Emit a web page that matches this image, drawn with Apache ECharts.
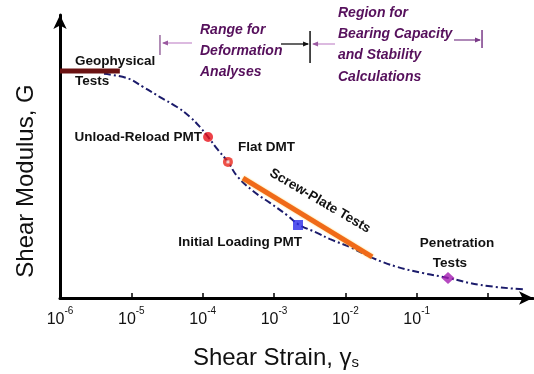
<!DOCTYPE html>
<html>
<head>
<meta charset="utf-8">
<script src="https://cdn.jsdelivr.net/npm/echarts@6/dist/echarts.min.js"></script>
<style>
  html, body { margin: 0; padding: 0; background: #fff; }
  #chart { width: 534px; height: 374px; }
</style>
</head>
<body>
<div id="chart"></div>
<script>
// Shear modulus degradation curve versus shear strain (log scale)
const strainTicks = [1e-6, 1e-5, 1e-4, 1e-3, 1e-2, 1e-1, 1];

const curveStrain = [4.14e-6, 8.69e-6, 1.46e-5, 2.52e-5, 4.37e-5, 6.65e-5, 9.18e-5, 1.19e-4,
  1.64e-4, 2.26e-4, 3.03e-4, 5.08e-4, 8.79e-4, 1.52e-3, 2.17e-3, 4.01e-3, 6.10e-3,
  1.16e-2, 2.44e-2, 5.31e-2, 0.123, 0.275, 0.773, 3.31];
const curveG = [79.2, 77.7, 74.6, 71.0, 67.5, 64.0, 60.4, 56.9,
  52.3, 48.1, 43.1, 37.8, 33.6, 29.3, 26.1, 23.0, 20.8,
  18.0, 14.1, 11.0, 8.8, 7.1, 4.6, 3.0];

const geophysStrain = [1e-6, 6.9e-6];
const geophysG = [80.2, 80.2];

const screwPlateStrain = [3.68e-4, 2.37e-2];
const screwPlateG = [42.4, 14.5];

const unloadReload = [1.19e-4, 56.9];
const flatDMT = [2.26e-4, 48.1];
const initialLoading = [2.17e-3, 25.8];
const penetration = [0.275, 7.1];

// Boundaries of the two application ranges along the strain axis
const rangeBounds = [2.52e-5, 3.2e-3, 0.824];

const zip = (xs, ys) => xs.map((x, i) => [x, ys[i]]);

const chart = echarts.init(document.getElementById('chart'));
const FONT = '"Liberation Sans", Arial, sans-serif';

chart.setOption({
  animation: false,
  grid: { left: 60, right: 1, top: 15, bottom: 76 },
  xAxis: {
    type: 'log',
    logBase: 10,
    min: 1e-6,
    max: 4.27,
    axisLine: { lineStyle: { color: '#000', width: 3 }, symbol: ['none', 'arrow'], symbolSize: [10, 14] },
    axisTick: { show: true, inside: true, length: 5, lineStyle: { color: '#000', width: 1.5 }, customValues: strainTicks },
    axisLabel: {
      margin: 8,
      customValues: strainTicks.slice(0, 6),
      formatter: v => '{b|10}{s|' + Math.round(Math.log10(v)) + '}',
      rich: {
        b: { fontFamily: FONT, fontSize: 16, color: '#111', verticalAlign: 'bottom', lineHeight: 22 },
        s: { fontFamily: FONT, fontSize: 10, color: '#111', verticalAlign: 'top', lineHeight: 22 }
      }
    },
    splitLine: { show: false }
  },
  yAxis: {
    type: 'value',
    min: 0,
    max: 100,
    axisLine: { show: true, lineStyle: { color: '#000', width: 3 }, symbol: ['none', 'arrow'], symbolSize: [10, 14] },
    axisTick: { show: false },
    axisLabel: { show: false },
    splitLine: { show: false }
  },
  series: [
    {
      type: 'line', data: zip(curveStrain, curveG), smooth: 0.4, symbol: 'none',
      lineStyle: { color: '#1b1b6b', width: 2, type: [7, 3, 2, 3] }, z: 3
    },
    {
      type: 'line', data: zip(geophysStrain, geophysG), symbol: 'none',
      lineStyle: { color: '#6b1212', width: 5 }, z: 4
    },
    {
      type: 'line', data: zip(screwPlateStrain, screwPlateG), symbol: 'none',
      lineStyle: { color: '#f06a18', width: 5, shadowColor: 'rgba(255,200,60,0.8)', shadowBlur: 2 }, z: 4
    },
    {
      type: 'scatter', data: [unloadReload], symbol: 'circle', symbolSize: 10,
      itemStyle: { color: '#e8121a' }, z: 5
    },
    {
      type: 'scatter', data: [flatDMT], symbol: 'circle', symbolSize: 10,
      itemStyle: { color: '#e8261a' }, z: 5
    },
    {
      type: 'scatter', data: [flatDMT], symbol: 'rect', symbolSize: 3,
      itemStyle: { color: '#ffffff' }, z: 6
    },
    {
      type: 'scatter', data: [initialLoading], symbol: 'rect', symbolSize: 10,
      itemStyle: { color: '#2b2be8' }, z: 5
    },
    {
      type: 'scatter', data: [penetration], symbol: 'diamond', symbolSize: [13, 12],
      itemStyle: { color: '#a31cb0' }, z: 5
    }
  ]
});

// Annotation text and range brackets
const toX = v => chart.convertToPixel({ xAxisIndex: 0 }, v);
const [xb0, xb1, xb2] = rangeBounds.map(toX);

const black = { fontFamily: FONT, fontSize: 13.5, fontWeight: 'bold', fill: '#111' };
const purple = { fontFamily: FONT, fontSize: 14, fontWeight: 'bold', fontStyle: 'italic', fill: '#56105c' };

function txt(x, y, text, base, extra) {
  return { type: 'text', x, y, style: Object.assign({ text, verticalAlign: 'middle', align: 'left' }, base, extra || {}), z: 10 };
}
function seg(x1, y1, x2, y2, color, w) {
  return { type: 'line', shape: { x1, y1, x2, y2 }, style: { stroke: color, lineWidth: w || 1.2 }, z: 9 };
}
function head(x, y, dir, color) {
  // small triangular arrow head, dir = +1 points right, -1 points left
  return { type: 'polygon', shape: { points: [[x, y], [x - dir * 6, y - 2.5], [x - dir * 6, y + 2.5]] }, style: { fill: color }, z: 9 };
}

const pink = '#c48ccc';
const graphics = [
  // y axis title
  { type: 'text', x: 26, y: 181, rotation: Math.PI / 2,
    style: { text: 'Shear Modulus, G', fontFamily: FONT, fontSize: 24, fill: '#111', align: 'center', verticalAlign: 'middle' } },
  // x axis title
  { type: 'text', x: 276, y: 356,
    style: { text: '{t|Shear Strain, γ}{u|s}', align: 'center', verticalAlign: 'middle',
      rich: { t: { fontFamily: FONT, fontSize: 24, fill: '#111', verticalAlign: 'bottom', lineHeight: 28 },
              u: { fontFamily: FONT, fontSize: 15, fill: '#111', verticalAlign: 'bottom', lineHeight: 22 } } } },

  txt(75, 61, 'Geophysical', black),
  txt(75, 81, 'Tests', black),
  txt(202, 137, 'Unload-Reload PMT', black, { align: 'right' }),
  txt(238, 147, 'Flat DMT', black),
  txt(302, 242, 'Initial Loading PMT', black, { align: 'right' }),
  txt(457, 243, 'Penetration', black, { align: 'center' }),
  txt(450, 263, 'Tests', black, { align: 'center' }),
  { type: 'text', x: 320, y: 201, rotation: -0.53,
    style: Object.assign({ text: 'Screw-Plate Tests', align: 'center', verticalAlign: 'middle' }, black), z: 10 },

  txt(200, 30, 'Range for', purple),
  txt(200, 51, 'Deformation', purple),
  txt(200, 72, 'Analyses', purple),
  txt(338, 13, 'Region for', purple),
  txt(338, 34, 'Bearing Capacity', purple),
  txt(338, 55, 'and Stability', purple),
  txt(338, 77, 'Calculations', purple),

  // left bound of deformation range
  seg(xb0, 35, xb0, 55, '#9a6aa0', 1.5),
  seg(xb0 + 3, 43, 192, 43, pink),
  head(xb0 + 2, 43, -1, '#9a5aa0'),
  // boundary between the two ranges
  seg(281, 44, xb1 - 2, 44, '#111', 1.3),
  head(xb1 - 1, 44, 1, '#111'),
  seg(xb1, 31, xb1, 63, '#111', 1.5),
  seg(xb1 + 3, 44, 335, 44, pink),
  head(xb1 + 2, 44, -1, '#9a5aa0'),
  // right bound of the bearing capacity range
  seg(454, 40, xb2 - 2, 40, '#7a3a88', 1.2),
  head(xb2 - 1, 40, 1, '#7a3a88'),
  seg(xb2, 30, xb2, 48, '#7a3a88', 1.5)
];

chart.setOption({ graphic: graphics });
</script>
</body>
</html>
